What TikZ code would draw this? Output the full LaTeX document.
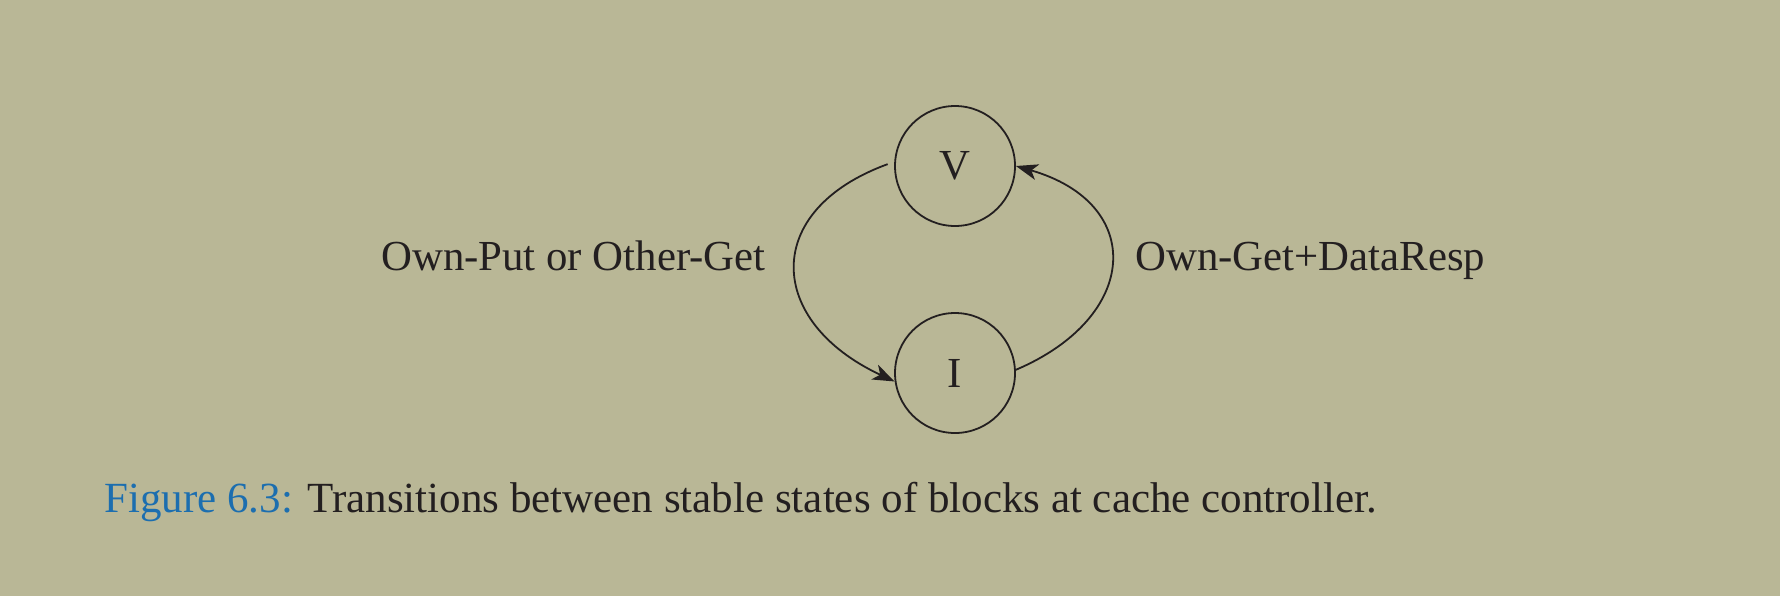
\documentclass[tikz,border=0pt]{standalone}
\usepackage{fontspec}
\setmainfont{Liberation Serif}
\usetikzlibrary{arrows.meta}

\definecolor{pagebg}{RGB}{185,183,150}
\definecolor{figblue}{RGB}{28,110,175}
\definecolor{ink}{RGB}{35,31,32}

\tikzset{
  state/.style={draw=ink, circle, line width=0.9pt, minimum size=60pt, inner sep=0pt,
    font=\fontsize{21.4}{25}\selectfont, text=ink},
  trans/.style={draw=ink, line width=0.9pt, -{Stealth[length=11pt,width=8pt,inset=3pt]}},
  lbl/.style={font=\fontsize{21.4}{25}\selectfont, text=ink, inner sep=0pt}
}

\begin{document}
\begin{tikzpicture}[x=0.5pt,y=-0.5pt]
\fill[pagebg] (0,0) rectangle (1780,596);
\useasboundingbox (0,0) rectangle (1780,596);
\node[state] (V) at (955,166) {V};
\node[state] (I) at (955,373) {I};
\draw[trans, shorten <=3.5pt] (V.176) to[out=200, in=155, looseness=1.65] (I.188);
\draw[trans] (I.3) to[out=23, in=-16, looseness=1.7] (V.east);
\node[lbl, anchor=base east] (own) at (766,270) {Own-Put or Other-Get};
\node[lbl, anchor=base west] (get) at (1135,270) {Own-Get+DataResp};
\node[lbl, anchor=base west, font=\fontsize{21.5}{25}\selectfont] (cap) at (104,512)
  {\textcolor{figblue}{Figure 6.3:} Transitions between stable states of blocks at cache controller.};
\end{tikzpicture}
\end{document}
